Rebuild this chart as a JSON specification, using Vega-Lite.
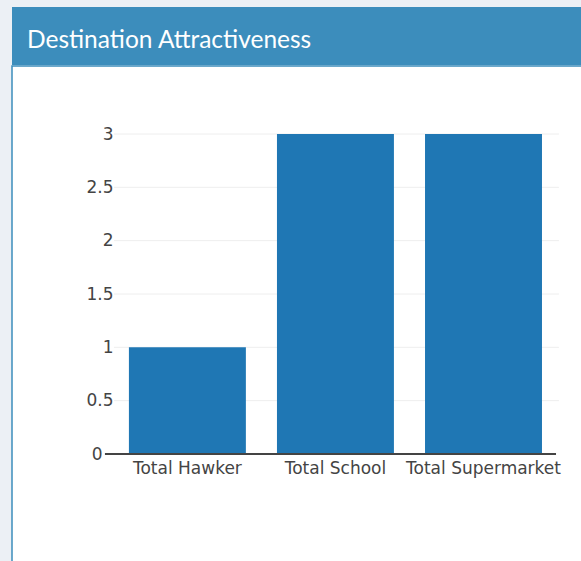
{
  "$schema": "https://vega.github.io/schema/vega-lite/v6.json",
  "background": "#ecf0f5",
  "padding": {"left": 11, "top": 7, "right": 0, "bottom": 0},
  "spacing": 0,
  "config": {"font": "DejaVu Sans"},
  "vconcat": [
    {
      "width": 570,
      "height": 58,
      "view": {"fill": "#3c8dbc", "stroke": null},
      "data": {"values": [{"title": "Destination Attractiveness"}]},
      "mark": {"type": "text", "align": "left", "baseline": "alphabetic", "dx": 15, "dy": 12, "font": "Lato", "fontSize": 24.5, "color": "white"},
      "encoding": {
        "text": {"field": "title", "type": "nominal"},
        "x": {"datum": 0, "type": "quantitative", "scale": {"domain": [0, 1]}, "axis": null}
      }
    },
    {
      "width": 570,
      "height": 496,
      "view": {"fill": "white", "stroke": "#3c8dbc", "strokeWidth": 1.5},
      "layer": [
        {
          "data": {"values": [{"v": 0.5}, {"v": 1}, {"v": 1.5}, {"v": 2}, {"v": 2.5}, {"v": 3}]},
          "mark": {"type": "rule", "color": "#eeeeee", "strokeWidth": 1},
          "encoding": {
            "y": {"field": "v", "type": "quantitative", "title": null},
            "x": {"datum": "Total Hawker", "type": "nominal", "bandPosition": -0.128, "title": null},
            "x2": {"datum": "Total Supermarket", "bandPosition": 1.145}
          }
        },
        {
          "data": {"values": [
            {"category": "Total Hawker", "value": 1},
            {"category": "Total School", "value": 3},
            {"category": "Total Supermarket", "value": 3}
          ]},
          "mark": {"type": "bar", "color": "#1f77b4"},
          "encoding": {
            "x": {
              "field": "category", "type": "nominal", "title": null,
              "scale": {"paddingInner": 0.21, "paddingOuter": 0.53, "align": 0.745},
              "axis": {"orient": "bottom", "offset": -108, "bandPosition": 0.5, "ticks": false, "tickSize": 0, "domain": false, "grid": false, "labelPadding": 6, "labelAngle": 0, "labelAlign": "center", "labelBaseline": "top", "labelFontSize": 17, "labelColor": "#444444", "title": null}
            },
            "y": {
              "field": "value", "type": "quantitative", "title": null,
              "scale": {"domain": [-1.0125, 3.6375], "nice": false, "zero": false},
              "axis": {"values": [0, 0.5, 1, 1.5, 2, 2.5, 3], "format": "~g", "offset": -102, "ticks": false, "domain": false, "grid": false, "title": null, "labelAlign": "right", "labelBaseline": "middle", "labelFontSize": 17, "labelColor": "#444444", "labelPadding": {"condition": {"test": "datum.value === 0", "value": 12}, "value": 1}}
            }
          }
        },
        {
          "data": {"values": [{"v": 0}]},
          "mark": {"type": "rule", "color": "#444444", "strokeWidth": 2},
          "encoding": {
            "y": {"field": "v", "type": "quantitative", "title": null},
            "x": {"datum": "Total Hawker", "type": "nominal", "bandPosition": -0.205, "title": null},
            "x2": {"datum": "Total Supermarket", "bandPosition": 1.12}
          }
        }
      ]
    }
  ]
}
